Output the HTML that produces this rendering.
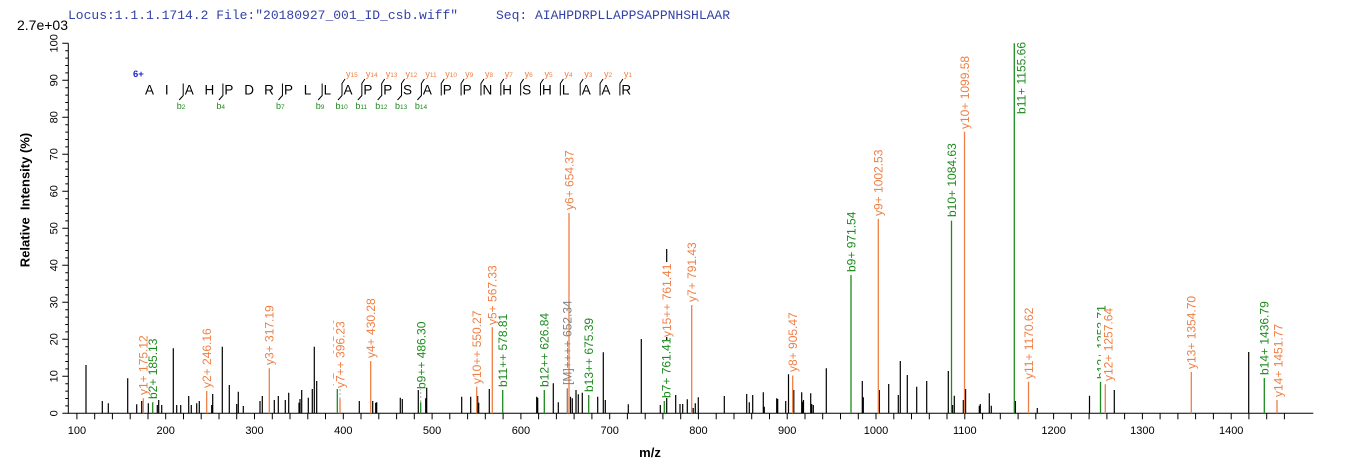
<!DOCTYPE html>
<html><head><meta charset="utf-8"><style>
html,body{margin:0;padding:0;background:#fff;}
svg{display:block;}
text{font-family:"Liberation Sans",Arial,sans-serif;}
.hd{font-family:"Liberation Mono","DejaVu Sans Mono",monospace;font-size:13px;fill:#3341a8;}
.o{fill:#ef7f45;font-size:12px;}
.g{fill:#1d8a1d;font-size:12px;}
.gr{fill:#808080;font-size:12px;}
.tk{font-size:11px;fill:#000;}
.pep{font-size:13.5px;fill:#000;}
.yl{fill:#ef7f45;font-size:9px;}
.bl{fill:#1d8a1d;font-size:9px;}
</style></head><body>
<svg width="1362" height="473" viewBox="0 0 1362 473" xmlns="http://www.w3.org/2000/svg">
<rect width="1362" height="473" fill="#fff"/>
<text class="hd" x="68" y="19" xml:space="preserve">Locus:1.1.1.1714.2 File:"20180927_001_ID_csb.wiff"</text>
<text class="hd" x="496" y="19" xml:space="preserve">Seq: AIAHPDRPLLAPPSAPPNHSHLAAR</text>
<text x="17" y="30" font-size="14" fill="#000">2.7e+03</text>

<!-- axes -->
<g stroke="#000" stroke-width="1" fill="none">
<path d="M68.3 43.3 V413.3 H1313.3"/>
<path d="M62.3 43.3H68.3M62.3 80.3H68.3M62.3 117.3H68.3M62.3 154.3H68.3M62.3 191.3H68.3M62.3 228.3H68.3M62.3 265.3H68.3M62.3 302.3H68.3M62.3 339.3H68.3M62.3 376.3H68.3M62.3 413.3H68.3"/>
<path d="M65.3 50.7H68.3M65.3 58.1H68.3M65.3 65.5H68.3M65.3 72.9H68.3M65.3 87.7H68.3M65.3 95.1H68.3M65.3 102.5H68.3M65.3 109.9H68.3M65.3 124.7H68.3M65.3 132.1H68.3M65.3 139.5H68.3M65.3 146.9H68.3M65.3 161.7H68.3M65.3 169.1H68.3M65.3 176.5H68.3M65.3 183.9H68.3M65.3 198.7H68.3M65.3 206.1H68.3M65.3 213.5H68.3M65.3 220.9H68.3M65.3 235.7H68.3M65.3 243.1H68.3M65.3 250.5H68.3M65.3 257.9H68.3M65.3 272.7H68.3M65.3 280.1H68.3M65.3 287.5H68.3M65.3 294.9H68.3M65.3 309.7H68.3M65.3 317.1H68.3M65.3 324.5H68.3M65.3 331.9H68.3M65.3 346.7H68.3M65.3 354.1H68.3M65.3 361.5H68.3M65.3 368.9H68.3M65.3 383.7H68.3M65.3 391.1H68.3M65.3 398.5H68.3M65.3 405.9H68.3"/>
</g>
<g stroke="#000" stroke-width="1">
<line x1="76.9" y1="413.3" x2="76.9" y2="419.3"/><line x1="94.7" y1="413.3" x2="94.7" y2="419.3"/><line x1="112.4" y1="413.3" x2="112.4" y2="419.3"/><line x1="130.2" y1="413.3" x2="130.2" y2="419.3"/><line x1="148.0" y1="413.3" x2="148.0" y2="419.3"/>
<line x1="165.7" y1="413.3" x2="165.7" y2="419.3"/><line x1="183.5" y1="413.3" x2="183.5" y2="419.3"/><line x1="201.2" y1="413.3" x2="201.2" y2="419.3"/><line x1="219.0" y1="413.3" x2="219.0" y2="419.3"/><line x1="236.7" y1="413.3" x2="236.7" y2="419.3"/>
<line x1="254.5" y1="413.3" x2="254.5" y2="419.3"/><line x1="272.3" y1="413.3" x2="272.3" y2="419.3"/><line x1="290.0" y1="413.3" x2="290.0" y2="419.3"/><line x1="307.8" y1="413.3" x2="307.8" y2="419.3"/><line x1="325.5" y1="413.3" x2="325.5" y2="419.3"/>
<line x1="343.3" y1="413.3" x2="343.3" y2="419.3"/><line x1="361.0" y1="413.3" x2="361.0" y2="419.3"/><line x1="378.8" y1="413.3" x2="378.8" y2="419.3"/><line x1="396.6" y1="413.3" x2="396.6" y2="419.3"/><line x1="414.3" y1="413.3" x2="414.3" y2="419.3"/>
<line x1="432.1" y1="413.3" x2="432.1" y2="419.3"/><line x1="449.8" y1="413.3" x2="449.8" y2="419.3"/><line x1="467.6" y1="413.3" x2="467.6" y2="419.3"/><line x1="485.3" y1="413.3" x2="485.3" y2="419.3"/><line x1="503.1" y1="413.3" x2="503.1" y2="419.3"/>
<line x1="520.9" y1="413.3" x2="520.9" y2="419.3"/><line x1="538.6" y1="413.3" x2="538.6" y2="419.3"/><line x1="556.4" y1="413.3" x2="556.4" y2="419.3"/><line x1="574.1" y1="413.3" x2="574.1" y2="419.3"/><line x1="591.9" y1="413.3" x2="591.9" y2="419.3"/>
<line x1="609.7" y1="413.3" x2="609.7" y2="419.3"/><line x1="627.4" y1="413.3" x2="627.4" y2="419.3"/><line x1="645.2" y1="413.3" x2="645.2" y2="419.3"/><line x1="662.9" y1="413.3" x2="662.9" y2="419.3"/><line x1="680.7" y1="413.3" x2="680.7" y2="419.3"/>
<line x1="698.4" y1="413.3" x2="698.4" y2="419.3"/><line x1="716.2" y1="413.3" x2="716.2" y2="419.3"/><line x1="734.0" y1="413.3" x2="734.0" y2="419.3"/><line x1="751.7" y1="413.3" x2="751.7" y2="419.3"/><line x1="769.5" y1="413.3" x2="769.5" y2="419.3"/>
<line x1="787.2" y1="413.3" x2="787.2" y2="419.3"/><line x1="805.0" y1="413.3" x2="805.0" y2="419.3"/><line x1="822.7" y1="413.3" x2="822.7" y2="419.3"/><line x1="840.5" y1="413.3" x2="840.5" y2="419.3"/><line x1="858.3" y1="413.3" x2="858.3" y2="419.3"/>
<line x1="876.0" y1="413.3" x2="876.0" y2="419.3"/><line x1="893.8" y1="413.3" x2="893.8" y2="419.3"/><line x1="911.5" y1="413.3" x2="911.5" y2="419.3"/><line x1="929.3" y1="413.3" x2="929.3" y2="419.3"/><line x1="947.0" y1="413.3" x2="947.0" y2="419.3"/>
<line x1="964.8" y1="413.3" x2="964.8" y2="419.3"/><line x1="982.6" y1="413.3" x2="982.6" y2="419.3"/><line x1="1000.3" y1="413.3" x2="1000.3" y2="419.3"/><line x1="1018.1" y1="413.3" x2="1018.1" y2="419.3"/><line x1="1035.8" y1="413.3" x2="1035.8" y2="419.3"/>
<line x1="1053.6" y1="413.3" x2="1053.6" y2="419.3"/><line x1="1071.3" y1="413.3" x2="1071.3" y2="419.3"/><line x1="1089.1" y1="413.3" x2="1089.1" y2="419.3"/><line x1="1106.9" y1="413.3" x2="1106.9" y2="419.3"/><line x1="1124.6" y1="413.3" x2="1124.6" y2="419.3"/>
<line x1="1142.4" y1="413.3" x2="1142.4" y2="419.3"/><line x1="1160.1" y1="413.3" x2="1160.1" y2="419.3"/><line x1="1177.9" y1="413.3" x2="1177.9" y2="419.3"/><line x1="1195.6" y1="413.3" x2="1195.6" y2="419.3"/><line x1="1213.4" y1="413.3" x2="1213.4" y2="419.3"/>
<line x1="1231.2" y1="413.3" x2="1231.2" y2="419.3"/><line x1="1248.9" y1="413.3" x2="1248.9" y2="419.3"/><line x1="1266.7" y1="413.3" x2="1266.7" y2="419.3"/><line x1="1284.4" y1="413.3" x2="1284.4" y2="419.3"/>
</g>

<!-- x tick labels -->
<g class="tk" text-anchor="middle">
<text x="76.9" y="434">100</text><text x="165.7" y="434">200</text><text x="254.5" y="434">300</text><text x="343.3" y="434">400</text><text x="432.1" y="434">500</text><text x="520.9" y="434">600</text><text x="609.7" y="434">700</text><text x="698.4" y="434">800</text><text x="787.2" y="434">900</text><text x="876.0" y="434">1000</text><text x="964.8" y="434">1100</text><text x="1053.6" y="434">1200</text><text x="1142.4" y="434">1300</text><text x="1231.2" y="434">1400</text>
</g>
<!-- y tick labels -->
<g class="tk" text-anchor="middle">
<text transform="translate(57.5,413.3) rotate(-90)">0</text>
<text transform="translate(57.5,376.3) rotate(-90)">10</text>
<text transform="translate(57.5,339.3) rotate(-90)">20</text>
<text transform="translate(57.5,302.3) rotate(-90)">30</text>
<text transform="translate(57.5,265.3) rotate(-90)">40</text>
<text transform="translate(57.5,228.3) rotate(-90)">50</text>
<text transform="translate(57.5,191.3) rotate(-90)">60</text>
<text transform="translate(57.5,154.3) rotate(-90)">70</text>
<text transform="translate(57.5,117.3) rotate(-90)">80</text>
<text transform="translate(57.5,80.3) rotate(-90)">90</text>
<text transform="translate(57.5,43.3) rotate(-90)">100</text>
</g>
<text transform="translate(29.5,200) rotate(-90)" text-anchor="middle" font-size="13" font-weight="bold" xml:space="preserve">Relative  Intensity (%)</text>
<text x="650" y="457" text-anchor="middle" font-size="13" font-weight="bold">m/z</text>

<!-- black peaks -->
<path stroke="#000" stroke-width="1.2" fill="none" d="
M86 413.3V365 M102.3 413.3V401 M108.3 413.3V403.3 M127.7 413.3V378.3 M136.7 413.3V404.3 M141.7 413.3V401 M148.3 413.3V403.3
M157.3 413.3V405 M158.7 413.3V400 M161.7 413.3V405 M173.3 413.3V348.3 M176.7 413.3V405 M180.7 413.3V405 M188.7 413.3V396
M191.3 413.3V405 M196.7 413.3V403.3 M199.3 413.3V401 M211.7 413.3V405 M212.7 413.3V394 M222.3 413.3V346.7 M229.3 413.3V385
M236.7 413.3V404 M238.3 413.3V391.7 M243.3 413.3V406 M260 413.3V401 M262.3 413.3V396 M274.3 413.3V400 M278.3 413.3V396
M285.3 413.3V400 M288.7 413.3V392.7 M299 413.3V402.7 M300 413.3V399 M301.7 413.3V390 M308.3 413.3V397.7 M312.3 413.3V389
M314.3 413.3V346.7 M316.7 413.3V381 M359.3 413.3V401 M372.7 413.3V401 M375.7 413.3V402.7 M376.7 413.3V402.3 M400.3 413.3V397.7
M402.3 413.3V399 M418.3 413.3V390 M425.7 413.3V398.3 M426.7 413.3V387.7 M461.7 413.3V396.7 M470.7 413.3V396.7 M477.7 413.3V396
M478.7 413.3V402.7 M489.3 413.3V389 M536.7 413.3V396.7 M537.7 413.3V397.7 M553.3 413.3V383.3 M558.3 413.3V402.3 M570.5 413.3V396.7
M572.3 413.3V398.3 M576 413.3V390 M578.3 413.3V394.3 M582.3 413.3V392.7 M597.7 413.3V396.7 M603.3 413.3V352.3 M605.3 413.3V400
M628.3 413.3V404.3 M641.3 413.3V339 M660.3 413.3V405 M666.7 413.3V249 M675.7 413.3V395 M680 413.3V404 M682.7 413.3V404
M687.3 413.3V399.3 M693.2 413.3V408 M695.3 413.3V403.3 M698.3 413.3V397.3 M724.3 413.3V396 M746.7 413.3V394 M749.3 413.3V402.3
M752.7 413.3V395 M763.3 413.3V392.3 M764.3 413.3V406.7 M776.7 413.3V398.3 M777.7 413.3V399 M785.7 413.3V401 M788.5 413.3V374.3
M793.8 413.3V390 M801.7 413.3V392.3 M802.7 413.3V401.7 M803.5 413.3V400 M810.7 413.3V393.3 M811.7 413.3V404 M813.3 413.3V405
M826.3 413.3V368.3 M862.3 413.3V381 M863.3 413.3V397.3 M879.3 413.3V390 M888.7 413.3V384 M898.3 413.3V395 M900.3 413.3V361
M907.3 413.3V375 M916.7 413.3V386.7 M926.7 413.3V381 M948.3 413.3V371 M952.6 413.3V405 M954.3 413.3V395.7 M963.3 413.3V400
M965.6 413.3V389 M979.3 413.3V405.7 M980.3 413.3V404 M989.3 413.3V393.3 M991.3 413.3V405.7 M1015.4 413.3V401 M1037.3 413.3V408
M1089.5 413.3V395.7 M1114.3 413.3V390 M1248.7 413.3V352"/>

<!-- gray dashed connectors -->
<path stroke="#aaa" stroke-width="1" stroke-dasharray="2,2" fill="none" d="M420.7 402V389 M340 399V388"/>

<!-- green peaks -->
<path stroke="#1d8a1d" stroke-width="1.3" fill="none" d="
M152.7 413.3V402.3 M337.3 413.3V389 M420.7 413.3V402.3 M502.7 413.3V390 M544.3 413.3V390 M588.7 413.3V395 M664.3 413.3V401
M851 413.3V275 M951.5 413.3V220.6 M1014.3 413.3V43.3 M1100.5 413.3V381.7 M1264.3 413.3V378"/>
<!-- gray precursor -->
<path stroke="#808080" stroke-width="1.3" fill="none" d="M567.3 413.3V388.3"/>
<!-- orange peaks -->
<path stroke="#ef7f45" stroke-width="1.3" fill="none" d="
M143.3 413.3V398.3 M206.7 413.3V391 M269.3 413.3V368.3 M340 413.3V399 M370.7 413.3V361 M476.7 413.3V386.7 M492.3 413.3V327.3
M569 413.3V213 M691.7 413.3V305 M792.7 413.3V375.5 M878.3 413.3V219 M964.5 413.3V131.8 M1028.5 413.3V381.7 M1105.3 413.3V384.3
M1191.3 413.3V372 M1277 413.3V400"/>

<!-- peak labels -->
<g>
<text class="o" transform="translate(147.6,395) rotate(-90)">y1+ 175.12</text>
<text class="g" transform="translate(157,399) rotate(-90)">b2+ 185.13</text>
<text class="o" transform="translate(211,388) rotate(-90)">y2+ 246.16</text>
<text class="o" transform="translate(273.6,365) rotate(-90)">y3+ 317.19</text>
<text class="g" transform="translate(341.8,386) rotate(-90)">b7++ 395.22</text>
<rect x="334" y="318" width="12" height="70" fill="#fff"/>
<text class="o" transform="translate(344.3,388) rotate(-90)">y7++ 396.23</text>
<text class="o" transform="translate(375,358) rotate(-90)">y4+ 430.28</text>
<text class="g" transform="translate(425.3,389) rotate(-90)">b9++ 486.30</text>
<text class="o" transform="translate(481,384) rotate(-90)">y10++ 550.27</text>
<text class="o" transform="translate(496.6,325) rotate(-90)">y5+ 567.33</text>
<text class="g" transform="translate(507,387) rotate(-90)">b11++ 578.81</text>
<text class="g" transform="translate(548.6,387) rotate(-90)">b12++ 626.84</text>
<text class="gr" transform="translate(571.6,385) rotate(-90)">[M]++++ 652.34</text>
<text class="o" transform="translate(573.3,210) rotate(-90)">y6+ 654.37</text>
<text class="g" transform="translate(593,392) rotate(-90)">b13++ 675.39</text>
<rect x="660" y="340" width="13" height="58" fill="#fff"/>
<text class="g" transform="translate(670.5,398) rotate(-90)">b7+ 761.41</text>
<rect x="660" y="262" width="13" height="75" fill="#fff"/>
<text class="o" transform="translate(671,337) rotate(-90)">y15++ 761.41</text>
<text class="o" transform="translate(696,302) rotate(-90)">y7+ 791.43</text>
<text class="o" transform="translate(797,372) rotate(-90)">y8+ 905.47</text>
<text class="g" transform="translate(855.3,272) rotate(-90)">b9+ 971.54</text>
<text class="o" transform="translate(882.6,216) rotate(-90)">y9+ 1002.53</text>
<text class="g" transform="translate(955.8,217) rotate(-90)">b10+ 1084.63</text>
<text class="o" transform="translate(968.8,129) rotate(-90)">y10+ 1099.58</text>
<text class="g" transform="translate(1025.3,42) rotate(-90)" text-anchor="end">b11+ 1155.66</text>
<text class="o" transform="translate(1032.8,379) rotate(-90)">y11+ 1170.62</text>
<text class="g" transform="translate(1105.6,379) rotate(-90)">b12+ 1253.71</text>
<rect x="1100.8" y="310" width="14" height="72" fill="#fff"/>
<text class="o" transform="translate(1112.6,381) rotate(-90)">y12+ 1257.64</text>
<text class="o" transform="translate(1195.6,369) rotate(-90)">y13+ 1354.70</text>
<text class="g" transform="translate(1268.6,375) rotate(-90)">b14+ 1436.79</text>
<text class="o" transform="translate(1282.3,397) rotate(-90)">y14+ 1451.77</text>
</g>

<!-- peptide annotation -->
<text x="133" y="77" font-size="9.5" font-weight="bold" fill="#2222cc">6+</text>
<g class="pep">
<text x="145" y="94.5">A</text><text x="164.85" y="94.5">I</text><text x="184.7" y="94.5">A</text><text x="204.55" y="94.5">H</text><text x="224.4" y="94.5">P</text>
<text x="244.25" y="94.5">D</text><text x="264.1" y="94.5">R</text><text x="283.95" y="94.5">P</text><text x="303.8" y="94.5">L</text><text x="323.65" y="94.5">L</text>
<text x="343.5" y="94.5">A</text><text x="363.35" y="94.5">P</text><text x="383.2" y="94.5">P</text><text x="403.05" y="94.5">S</text><text x="422.9" y="94.5">A</text>
<text x="442.75" y="94.5">P</text><text x="462.6" y="94.5">P</text><text x="482.45" y="94.5">N</text><text x="502.3" y="94.5">H</text><text x="522.15" y="94.5">S</text>
<text x="542" y="94.5">H</text><text x="561.85" y="94.5">L</text><text x="581.7" y="94.5">A</text><text x="601.55" y="94.5">A</text><text x="621.4" y="94.5">R</text>
</g>
<g stroke="#000" stroke-width="1" fill="none">
<path d="M183.2 83.5V95.5L179.2 100"/>
<path d="M222.9 83.5V95.5L218.9 100"/>
<path d="M282.45 83.5V95.5L278.45 100"/>
<path d="M322.15 83.5V95.5L318.15 100"/>
<path d="M345 79L342 83.5V95.5L338 100"/>
<path d="M364.85 79L361.85 83.5V95.5L357.85 100"/>
<path d="M384.7 79L381.7 83.5V95.5L377.7 100"/>
<path d="M404.55 79L401.55 83.5V95.5L397.55 100"/>
<path d="M424.4 79L421.4 83.5V95.5L417.4 100"/>
<path d="M444.25 79L441.25 83.5V95.5"/>
<path d="M464.1 79L461.1 83.5V95.5"/>
<path d="M483.95 79L480.95 83.5V95.5"/>
<path d="M503.8 79L500.8 83.5V95.5"/>
<path d="M523.65 79L520.65 83.5V95.5"/>
<path d="M543.5 79L540.5 83.5V95.5"/>
<path d="M563.35 79L560.35 83.5V95.5"/>
<path d="M583.2 79L580.2 83.5V95.5"/>
<path d="M603.05 79L600.05 83.5V95.5"/>
<path d="M622.9 79L619.9 83.5V95.5"/>
</g>
<g class="bl">
<text x="176.7" y="109">b<tspan font-size="6.5">2</tspan></text>
<text x="216.4" y="109">b<tspan font-size="6.5">4</tspan></text>
<text x="276" y="109">b<tspan font-size="6.5">7</tspan></text>
<text x="315.7" y="109">b<tspan font-size="6.5">9</tspan></text>
<text x="335.5" y="109">b<tspan font-size="6.5">10</tspan></text>
<text x="355.4" y="109">b<tspan font-size="6.5">11</tspan></text>
<text x="375.2" y="109">b<tspan font-size="6.5">12</tspan></text>
<text x="395" y="109">b<tspan font-size="6.5">13</tspan></text>
<text x="414.9" y="109">b<tspan font-size="6.5">14</tspan></text>
</g>
<g class="yl">
<text x="346" y="77">y<tspan font-size="6.5">15</tspan></text>
<text x="365.85" y="77">y<tspan font-size="6.5">14</tspan></text>
<text x="385.7" y="77">y<tspan font-size="6.5">13</tspan></text>
<text x="405.55" y="77">y<tspan font-size="6.5">12</tspan></text>
<text x="425.4" y="77">y<tspan font-size="6.5">11</tspan></text>
<text x="445.25" y="77">y<tspan font-size="6.5">10</tspan></text>
<text x="465.1" y="77">y<tspan font-size="6.5">9</tspan></text>
<text x="484.95" y="77">y<tspan font-size="6.5">8</tspan></text>
<text x="504.8" y="77">y<tspan font-size="6.5">7</tspan></text>
<text x="524.65" y="77">y<tspan font-size="6.5">6</tspan></text>
<text x="544.5" y="77">y<tspan font-size="6.5">5</tspan></text>
<text x="564.35" y="77">y<tspan font-size="6.5">4</tspan></text>
<text x="584.2" y="77">y<tspan font-size="6.5">3</tspan></text>
<text x="604.05" y="77">y<tspan font-size="6.5">2</tspan></text>
<text x="623.9" y="77">y<tspan font-size="6.5">1</tspan></text>
</g>
</svg>
</body></html>
